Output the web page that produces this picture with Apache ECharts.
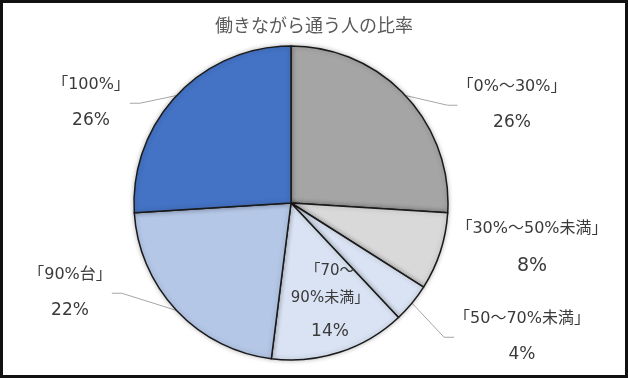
<!DOCTYPE html>
<html>
<head>
<meta charset="utf-8">
<script src="https://cdn.jsdelivr.net/npm/echarts@6/dist/echarts.min.js"></script>
<style>
  html, body { margin: 0; padding: 0; background: #fff; }
  #chart {
    width: 628px; height: 378px;
    box-sizing: border-box;
    border: 3px solid #111;
  }
</style>
</head>
<body>
<div id="chart"></div>
<script>
const categories = ['「0%～30%」', '「30%～50%未満」', '「50～70%未満」', '「70～\n90%未満」', '「90%台」', '「100%」']
const shares = [26, 8, 4, 14, 22, 26]
const colors = ['#a5a5a5', '#d9d9d9', '#dae3f3', '#dae3f3', '#b4c7e7', '#4472c4']

// where each label block sits (center of text), in px of the chart box
const labelSpots = [[509, 102], [529, 245], [519, 334], [327, 302], [67, 290], [88, 100]]

let chart = echarts.init(document.getElementById('chart'))

const txt = '#3a3a3a'
const ff = '"DejaVu Sans", "Noto Sans CJK JP", sans-serif'
const rs = (size, lh) => ({ fontSize: size, color: txt, lineHeight: lh, fontFamily: ff })

chart.setOption({
  title: {
    text: '働きながら通う人の比率',
    left: 'center',
    top: 8,
    textStyle: { color: '#595959', fontSize: 18, fontWeight: 'normal', fontFamily: '"Noto Sans CJK JP", sans-serif' }
  },
  series: [
    {
      type: 'pie',
      center: [288, 200],
      radius: 157,
      startAngle: 90,
      clockwise: true,
      avoidLabelOverlap: false,
      animation: false,
      itemStyle: {
        borderColor: '#1a1a1a',
        borderWidth: 1.5,
        shadowBlur: 5,
        shadowColor: 'rgba(0,0,0,0.25)'
      },
      label: {
        position: 'outside',
        formatter: p => '{n|' + p.name.split('\n').join('}\n{n|') + '}\n{v|' + p.value + '%}',
        rich: { n: rs(16, 36), v: rs(17, 36) }
      },
      labelLine: {
        show: true,
        length: 8,
        length2: 10,
        lineStyle: { color: '#a6a6a6', width: 1 }
      },
      labelLayout: function (p) {
        const s = labelSpots[p.dataIndex]
        return { x: s[0], y: s[1], align: 'center', verticalAlign: 'middle' }
      },
      data: categories.map((c, i) => ({
        name: c,
        value: shares[i],
        itemStyle: { color: colors[i] },
        label: i === 3
          ? { position: 'inside', rich: { n: rs(15, 27), v: rs(17, 40) } }
          : (i === 1 ? { rich: { n: rs(16, 36), v: rs(19, 38) } } : {}),
        labelLine: { show: i !== 3 && i !== 1 }
      }))
    }
  ]
})
</script>
</body>
</html>
